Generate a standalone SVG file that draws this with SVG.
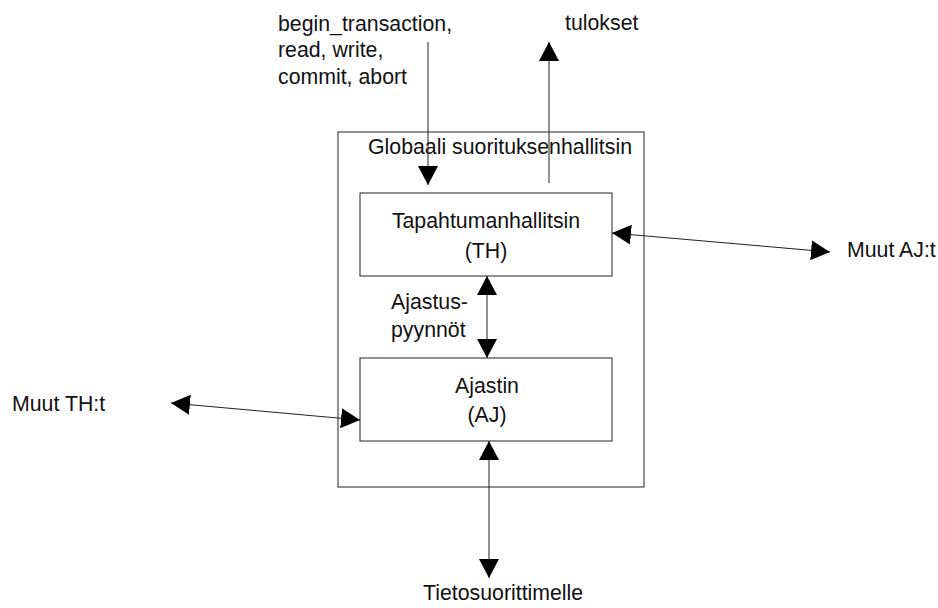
<svg xmlns="http://www.w3.org/2000/svg" width="938" height="608" viewBox="0 0 938 608">
  <style>
    text { font-family: "Liberation Sans", Arial, sans-serif; font-size: 21.3px; fill: #111; }
    .mid { text-anchor: middle; }
    .box { fill: #fff; stroke: #222; stroke-width: 1; }
    .frame { fill: none; stroke: #222; stroke-width: 1; }
    .link { fill: none; stroke: #222; stroke-width: 1; }
    .one { marker-end: url(#head); }
    .two { marker-start: url(#head); marker-end: url(#head); }
  </style>
  <defs>
    <marker id="head" markerUnits="userSpaceOnUse" markerWidth="20" markerHeight="20" refX="19" refY="10" orient="auto-start-reverse">
      <path d="M0,0 L19,10 L0,20 z" fill="#000"/>
    </marker>
  </defs>

  <!-- outer frame: global execution manager -->
  <g id="globaali">
    <rect class="frame" x="338" y="132" width="306" height="355"/>
    <text x="368" y="154">Globaali suorituksenhallitsin</text>
  </g>

  <g id="th">
    <rect class="box" x="360" y="193" width="252" height="83"/>
    <text class="mid" x="486" y="228">Tapahtumanhallitsin</text>
    <text class="mid" x="486" y="258">(TH)</text>
  </g>

  <g id="aj">
    <rect class="box" x="360" y="358" width="252" height="83"/>
    <text class="mid" x="487" y="393">Ajastin</text>
    <text class="mid" x="487" y="422">(AJ)</text>
  </g>

  <g id="operaatiot">
    <text x="278" y="31">begin_transaction,</text>
    <text x="278" y="57">read, write,</text>
    <text x="278" y="84">commit, abort</text>
  </g>

  <g id="tulokset">
    <text x="565" y="30">tulokset</text>
  </g>

  <g id="muut-aj">
    <text x="847" y="257">Muut AJ:t</text>
  </g>

  <g id="muut-th">
    <text x="12" y="411">Muut TH:t</text>
  </g>

  <g id="tietosuoritin">
    <text x="423" y="600">Tietosuorittimelle</text>
  </g>

  <g id="connectors">
    <line class="link one" x1="428" y1="42" x2="428" y2="185"/>
    <line class="link one" x1="549" y1="183" x2="549" y2="42"/>
    <line class="link two" x1="612" y1="233" x2="830" y2="252"/>
    <line class="link two" x1="487" y1="276" x2="487" y2="358"/>
    <line class="link two" x1="171" y1="403" x2="360" y2="420"/>
    <line class="link two" x1="489" y1="441" x2="489" y2="578"/>
    <text x="391" y="309">Ajastus-</text>
    <text x="391" y="337">pyynnöt</text>
  </g>
</svg>
